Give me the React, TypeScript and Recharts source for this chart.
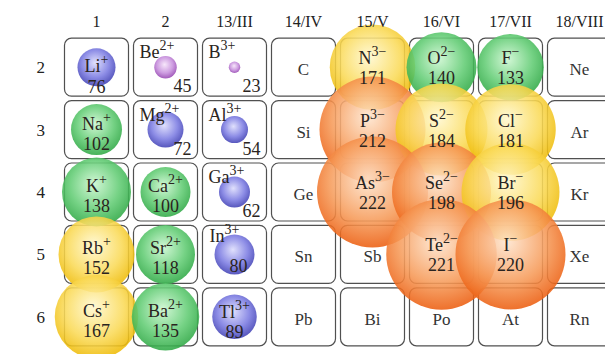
import { ScatterChart, Scatter, XAxis, YAxis } from "recharts";

const SERIF = "'Liberation Serif', 'DejaVu Serif', serif";

// column headings (groups) and row headings (periods)
const GROUP_LABELS = ["1", "2", "13/III", "14/IV", "15/V", "16/VI", "17/VII", "18/VIII"];
const GROUP_TICKS = [1, 2, 3, 4, 5, 6, 7, 8];
const PERIODS = [2, 3, 4, 5, 6];

const ELEMENTS = [
  ["Li", "Be", "B", "C", "N", "O", "F", "Ne"],
  ["Na", "Mg", "Al", "Si", "P", "S", "Cl", "Ar"],
  ["K", "Ca", "Ga", "Ge", "As", "Se", "Br", "Kr"],
  ["Rb", "Sr", "In", "Sn", "Sb", "Te", "I", "Xe"],
  ["Cs", "Ba", "Tl", "Pb", "Bi", "Po", "At", "Rn"],
];

// ions, radius in pm
const ION_SYMBOLS = ["Li", "Be", "B", "N", "O", "F", "Na", "Mg", "Al", "P", "S", "Cl", "K", "Ca", "Ga", "As", "Se", "Br", "Rb", "Sr", "In", "Te", "I", "Cs", "Ba", "Tl"];
const ION_CHARGES = ["+", "2+", "3+", "3−", "2−", "−", "+", "2+", "3+", "3−", "2−", "−", "+", "2+", "3+", "3−", "2−", "−", "+", "2+", "3+", "2−", "−", "+", "2+", "3+"];
const ION_RADII = [76, 45, 23, 171, 140, 133, 102, 72, 54, 212, 184, 181, 138, 100, 62, 222, 198, 196, 152, 118, 80, 221, 220, 167, 135, 89];
const ION_GROUPS = [1, 2, 3, 5, 6, 7, 1, 2, 3, 5, 6, 7, 1, 2, 3, 5, 6, 7, 1, 2, 3, 6, 7, 1, 2, 3];
const ION_PERIODS = [2, 2, 2, 2, 2, 2, 3, 3, 3, 3, 3, 3, 4, 4, 4, 4, 4, 4, 5, 5, 5, 5, 5, 6, 6, 6];
const ION_COLORS = ["blue", "purple", "purple", "yellow", "green", "green", "green", "blue", "blue", "orange", "yellow", "yellow", "green", "green", "blue", "orange", "orange", "yellow", "yellow", "green", "blue", "orange", "orange", "yellow", "green", "blue"];
const ION_LAYOUTS = ["li", "corner", "corner", "anion", "anion", "anion", "cation", "corner", "corner", "anion", "anion", "anion", "cation", "cation", "corner", "anion", "anion", "anion", "cation", "cation", "inset", "anion", "anion", "cation", "cation", "tl"];

const GRADIENTS: Record<string, [string, string, string]> = {
  blue: ["#dcdcfc", "#7c7ce2", "#4040b4"],
  purple: ["#f6e4fa", "#c68edc", "#9646b2"],
  green: ["#ccf6d0", "#62cc74", "#2ea844"],
  yellow: ["#fff8d0", "#fada58", "#eeba04"],
  orange: ["#fee6d0", "#f69a58", "#ec5e10"],
};

const PX_PER_PM = 0.25;
const CELL_W = 64;
const CELL_H = 58;

const cells = ELEMENTS.flatMap((row, i) =>
  row.map((el, j) => ({
    g: j + 1,
    p: PERIODS[i],
    label: ION_SYMBOLS.includes(el) ? "" : el,
  }))
);

const ions = ION_SYMBOLS.map((s, i) => ({
  g: ION_GROUPS[i],
  p: ION_PERIODS[i],
  symbol: s,
  charge: ION_CHARGES[i],
  radius: ION_RADII[i],
  color: ION_COLORS[i],
  layout: ION_LAYOUTS[i],
}));

function CellShape(props: any) {
  const { cx, cy, payload } = props;
  return (
    <g>
      <rect
        x={cx - CELL_W / 2}
        y={cy - CELL_H / 2}
        width={CELL_W}
        height={CELL_H}
        rx={7}
        fill="#fff"
        stroke="#505050"
        strokeWidth={1.2}
      />
      {payload.label && (
        <text x={cx} y={cy + 8} textAnchor="middle" fontFamily={SERIF} fontSize={17} fill="#333">
          {payload.label}
        </text>
      )}
    </g>
  );
}

function IonShape(props: any) {
  const { cx, cy, payload } = props;
  return (
    <circle
      cx={cx}
      cy={cy}
      r={payload.radius * PX_PER_PM}
      fill={`url(#ion-${payload.color})`}
      fillOpacity={0.88}
    />
  );
}

function IonText({ x, y, anchor, symbol, charge }: any) {
  return (
    <text x={x} y={y} textAnchor={anchor} fontFamily={SERIF} fontSize={18} fill="#2a2420">
      <tspan>{symbol}</tspan>
      <tspan fontSize={14} dy={-8}>{charge}</tspan>
    </text>
  );
}

function NumText({ x, y, anchor, value }: any) {
  return (
    <text x={x} y={y} textAnchor={anchor} fontFamily={SERIF} fontSize={18} fill="#2a2420">
      {value}
    </text>
  );
}

// symbol / number placement inside a cell, relative to its centre
const LAYOUT: Record<string, { sx: number; sy: number; sa: string; nx: number; ny: number; na: string }> = {
  anion: { sx: 0, sy: -3, sa: "middle", nx: 0, ny: 17, na: "middle" },
  cation: { sx: 0, sy: 0, sa: "middle", nx: 0, ny: 20, na: "middle" },
  li: { sx: 0, sy: 5, sa: "middle", nx: 0, ny: 26, na: "middle" },
  tl: { sx: 0, sy: 1, sa: "middle", nx: 0, ny: 21, na: "middle" },
  corner: { sx: -26, sy: -9, sa: "start", nx: 26, ny: 25, na: "end" },
  inset: { sx: -25, sy: -12, sa: "start", nx: 4, ny: 18, na: "middle" },
};

function LabelShape(props: any) {
  const { cx, cy, payload } = props;
  const l = LAYOUT[payload.layout];
  return (
    <g>
      <IonText x={cx + l.sx} y={cy + l.sy} anchor={l.sa} symbol={payload.symbol} charge={payload.charge} />
      <NumText x={cx + l.nx} y={cy + l.ny} anchor={l.na} value={payload.radius} />
    </g>
  );
}

export default function App() {
  return (
    <div style={{ position: "absolute", left: 0, top: 0, width: 605, height: 354, overflow: "hidden", background: "#fff" }}>
      <ScatterChart width={614} height={354} margin={{ top: 0, right: 0, bottom: 6, left: 0 }}>
        <defs>
          {Object.entries(GRADIENTS).map(([k, c]) => (
            <radialGradient key={k} id={`ion-${k}`} cx="48%" cy="42%" r="58%" fx="46%" fy="38%">
              <stop offset="0%" stopColor={c[0]} />
              <stop offset="62%" stopColor={c[1]} />
              <stop offset="100%" stopColor={c[2]} />
            </radialGradient>
          ))}
        </defs>
        <XAxis
          type="number"
          dataKey="g"
          orientation="top"
          domain={[0.5, 8.5]}
          ticks={GROUP_TICKS}
          tickFormatter={(v: number) => GROUP_LABELS[v - 1]}
          height={36}
          axisLine={false}
          tickLine={false}
          tickSize={0}
          tickMargin={9}
          tick={{ fontSize: 16, fill: "#222", fontFamily: SERIF }}
          interval={0}
        />
        <YAxis
          type="number"
          dataKey="p"
          domain={[1.5, 6.5]}
          reversed
          ticks={PERIODS}
          width={62}
          axisLine={false}
          tickLine={false}
          tickSize={0}
          tickMargin={17}
          tick={{ fontSize: 17, fill: "#222", fontFamily: SERIF }}
          interval={0}
        />
        <Scatter data={cells} shape={CellShape} isAnimationActive={false} />
        <Scatter data={ions} shape={IonShape} isAnimationActive={false} />
        <Scatter data={ions} shape={LabelShape} isAnimationActive={false} />
      </ScatterChart>
    </div>
  );
}
